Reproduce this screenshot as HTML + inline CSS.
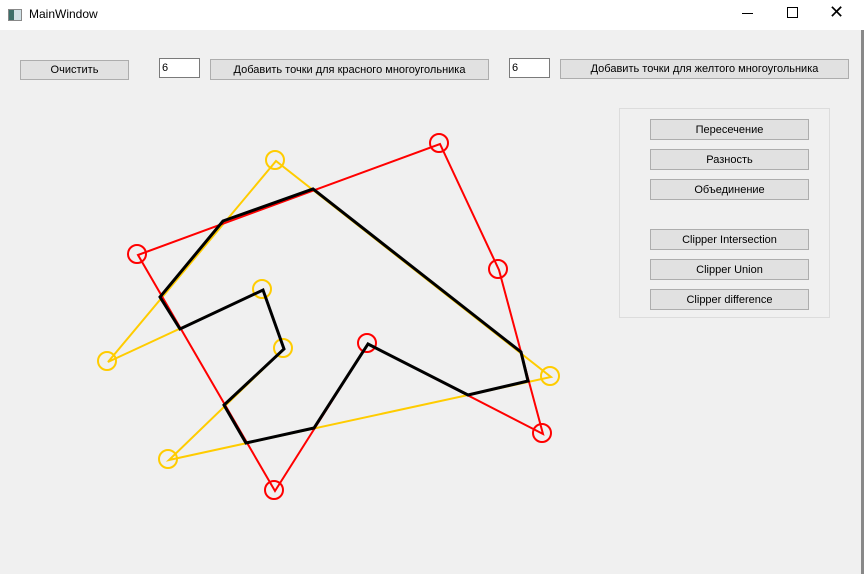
<!DOCTYPE html>
<html><head><meta charset="utf-8"><style>
body{margin:0;width:864px;height:574px;overflow:hidden;background:#f0f0f0;font-family:"Liberation Sans",sans-serif;position:relative}
.title{position:absolute;left:0;top:0;width:864px;height:30px;background:#fff}
.btn{position:absolute;background:#e1e1e1;border:1px solid #adadad;box-sizing:border-box;font-size:11px;text-align:center;color:#000;display:flex;align-items:center;justify-content:center}
.inp{position:absolute;background:#fff;border:1px solid #7a7a7a;box-sizing:border-box;font-size:11px;padding-left:2px;line-height:18px}
</style></head><body>
<div class="title">
<div style="position:absolute;left:8px;top:9px;width:12px;height:10px;background:linear-gradient(90deg,#3b6e6a 40%,#cfe0e6 40%);border:1px solid #888"></div>
<div style="position:absolute;left:29px;top:7px;font-size:12px">MainWindow</div>
<div style="position:absolute;left:742px;top:13px;width:11px;height:1px;background:#000"></div>
<div style="position:absolute;left:787px;top:7px;width:9px;height:9px;border:1px solid #000"></div>
<div style="position:absolute;left:829px;top:2px;font-size:18px">✕</div>
</div>
<div style="position:absolute;left:861px;top:30px;width:3px;height:544px;background:#888"></div>
<div class="btn" style="left:20px;top:60px;width:109px;height:20px">Очистить</div>
<div class="inp" style="left:159px;top:58px;width:41px;height:20px">6</div>
<div class="btn" style="left:210px;top:59px;width:279px;height:21px">Добавить точки для красного многоугольника</div>
<div class="inp" style="left:509px;top:58px;width:41px;height:20px">6</div>
<div class="btn" style="left:560px;top:59px;width:289px;height:20px">Добавить точки для желтого многоугольника</div>
<div style="position:absolute;left:619px;top:108px;width:211px;height:210px;border:1px solid #dcdcdc;box-sizing:border-box"></div>
<div class="btn" style="left:650px;top:119px;width:159px;height:21px">Пересечение</div>
<div class="btn" style="left:650px;top:149px;width:159px;height:21px">Разность</div>
<div class="btn" style="left:650px;top:179px;width:159px;height:21px">Объединение</div>
<div class="btn" style="left:650px;top:229px;width:159px;height:21px">Clipper Intersection</div>
<div class="btn" style="left:650px;top:259px;width:159px;height:21px">Clipper Union</div>
<div class="btn" style="left:650px;top:289px;width:159px;height:21px">Clipper difference</div>
<svg id="cv" width="864" height="574" style="position:absolute;left:0;top:0;pointer-events:none"></svg>
<script>
const redX=[138,440,499,543,368,275];
const redY=[255,144,270,434,344,491];
const yelX=[276,108,263,284,169,551];
const yelY=[161,362,290,349,460,377];
const blkX=[223,313,521,528,468,368,314,246,224,284,263,180,160];
const blkY=[221,189,352,381,395,344,428,443,405,349,290,329,297];
const svg=document.getElementById('cv');
const NS='http://www.w3.org/2000/svg';
function poly(xs,ys,color,w,name){
 const p=document.createElementNS(NS,'polygon');
 p.setAttribute('points',xs.map((x,i)=>x+','+ys[i]).join(' '));
 p.setAttribute('fill','none');p.setAttribute('stroke',color);p.setAttribute('stroke-width',w);
 
 
 svg.appendChild(p);
}
function circles(xs,ys,color,name){
 xs.forEach((x,i)=>{
  const c=document.createElementNS(NS,'circle');
  c.setAttribute('cx',x-1);c.setAttribute('cy',ys[i]-1);c.setAttribute('r',9);
  c.setAttribute('fill','none');c.setAttribute('stroke',color);c.setAttribute('stroke-width',2);
  
  
  svg.appendChild(c);
 });
}
poly(yelX,yelY,'#ffcc00',2,'yellow-polygon');
poly(redX,redY,'#ff0000',2,'red-polygon');
circles(yelX,yelY,'#ffcc00','yellow-vertex');
circles(redX,redY,'#ff0000','red-vertex');
poly(blkX,blkY,'#000',3,'result-polygon');
</script>
</body></html>
